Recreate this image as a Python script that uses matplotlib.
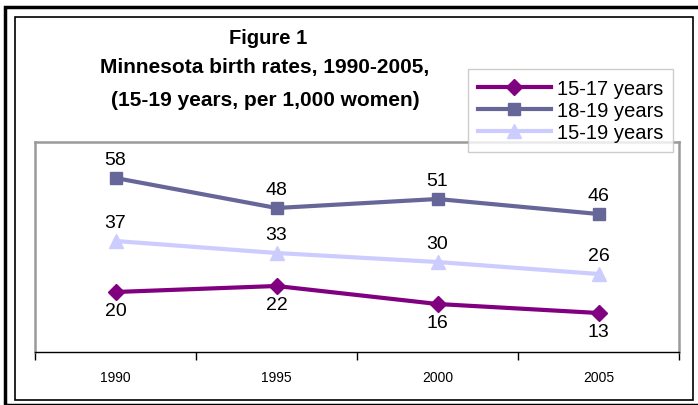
import matplotlib
matplotlib.use("Agg")
import matplotlib.pyplot as plt
from matplotlib.patches import Rectangle

plt.rcParams['font.family'] = ['Liberation Sans', 'DejaVu Sans']

# data
years = ["1990", "1995", "2000", "2005"]
rate_15_17 = [20, 22, 16, 13]
rate_18_19 = [58, 48, 51, 46]
rate_15_19 = [37, 33, 30, 26]

series = [
    ("15-17 years", rate_15_17, "#800080", "D", 8, -1),
    ("18-19 years", rate_18_19, "#666699", "s", 9, 1),
    ("15-19 years", rate_15_19, "#CCCCFF", "^", 10, 1),
]

W, H = 698, 406
fig = plt.figure(figsize=(W / 100, H / 100), dpi=100)

# outer and inner frames
fig.patches.append(Rectangle((5 / W, 0), 1.0, 1 - 8 / H, transform=fig.transFigure,
                             fill=False, edgecolor="black", linewidth=2.5))
fig.patches.append(Rectangle((15 / W, 1 - 401 / H), (693 - 15) / W, (401 - 18) / H,
                             transform=fig.transFigure, fill=False,
                             edgecolor="black", linewidth=1.2))

ax = fig.add_axes([35 / W, 1 - 353 / H, (679 - 35) / W, (353 - 143) / H])
x = list(range(len(years)))

for name, vals, color, marker, ms, side in series:
    ax.plot(x, vals, color=color, linewidth=3, marker=marker, markersize=ms,
            label=name, clip_on=False)
    for xi, v in zip(x, vals):
        ax.annotate(str(v), (xi, v), xytext=(0, 13 * side), textcoords="offset points",
                    ha="center", va="center", fontsize=14)

ax.set_xlim(-0.5, len(years) - 0.5)
ax.set_ylim(0, 70)
ax.set_yticks([])
ax.set_xticks(x)
ax.set_xticklabels(years, fontsize=10)
ax.tick_params(axis="x", which="major", length=0, pad=13)
ax.set_xticks([i - 0.5 for i in range(len(years) + 1)], minor=True)
ax.tick_params(axis="x", which="minor", length=6, direction="out", width=1)

for s in ["top", "left", "right"]:
    ax.spines[s].set_color("#9a9a9a")
    ax.spines[s].set_linewidth(1.8)
ax.spines["bottom"].set_color("black")
ax.spines["bottom"].set_linewidth(1)

fig.text(268 / W, 1 - 38 / H, "Figure 1", ha="center", va="center",
         fontsize=14.5, fontweight="bold")
fig.text(265 / W, 1 - 68 / H, "Minnesota birth rates, 1990-2005,", ha="center",
         va="center", fontsize=15, fontweight="bold")
fig.text(265 / W, 1 - 100 / H, "(15-19 years, per 1,000 women)", ha="center",
         va="center", fontsize=15, fontweight="bold")

leg = fig.legend(loc="upper left", bbox_to_anchor=(468 / W, 1 - 70 / H),
                 fontsize=14.5, frameon=True, fancybox=False, handlelength=3.6,
                 handletextpad=0.3, labelspacing=0.15, borderpad=0.5,
                 borderaxespad=0)
leg.get_frame().set_edgecolor("#c0c0c0")
leg.get_frame().set_linewidth(1)

fig.savefig("out.png", dpi=100)
